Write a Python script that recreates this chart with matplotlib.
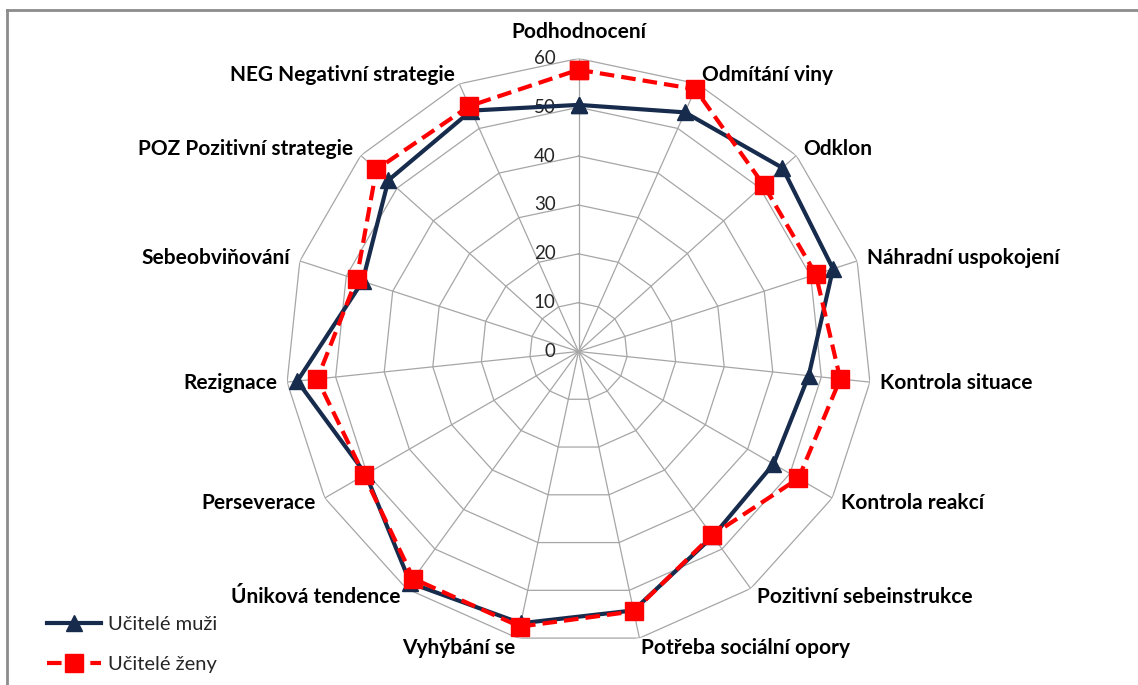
import numpy as np
import matplotlib
matplotlib.use("Agg")
import matplotlib.pyplot as plt
from matplotlib.lines import Line2D

plt.rcParams['font.family'] = ['Lato', 'DejaVu Sans']

categories = ["Podhodnocení", "Odmítání viny", "Odklon", "Náhradní uspokojení",
              "Kontrola situace", "Kontrola reakcí", "Pozitivní sebeinstrukce",
              "Potřeba sociální opory", "Vyhýbání se", "Úniková tendence",
              "Perseverace", "Rezignace", "Sebeobviňování",
              "POZ Pozitivní strategie", "NEG Negativní strategie"]
muzi = [50.5, 53.6, 56.2, 54.8, 47.4, 46.1, 46.8, 54.2, 56.9, 58.6,
        50.3, 57.9, 46.5, 52.4, 54.0]
zeny = [57.7, 58.8, 51.0, 51.1, 53.9, 52.0, 46.5, 54.4, 57.6, 57.5,
        50.7, 53.8, 47.8, 55.7, 55.0]
r_ticks = [0, 10, 20, 30, 40, 50, 60]
series_names = ["Učitelé muži", "Učitelé ženy"]

W, H = 1138, 685
fig = plt.figure(figsize=(W / 100, H / 100), dpi=100)
fig.patch.set_facecolor('white')

cx, cy, R = 578.5, 351.5, 293.0
ax = fig.add_axes([(cx - R) / W, (H - cy - R) / H, 2 * R / W, 2 * R / H],
                  projection='polar')
ax.set_theta_offset(np.pi / 2)
ax.set_theta_direction(-1)
ax.set_ylim(0, 60)
ax.grid(False)
ax.spines['polar'].set_visible(False)
ax.set_xticks([])
ax.set_yticks([])
ax.patch.set_alpha(0)

n = len(categories)
theta = np.linspace(0, 2 * np.pi, n, endpoint=False)
closed = np.append(theta, theta[0])

# polygonal web: rings and spokes
grid_col = '#a6a6a6'
for r in r_ticks[1:]:
    ax.plot(closed, [r] * (n + 1), color=grid_col, lw=0.9, zorder=1)
for t in theta:
    ax.plot([t, t], [0, 60], color=grid_col, lw=0.9, zorder=1)

for v in r_ticks:
    ax.annotate(str(v), xy=(0, v), xytext=(-23, 0), textcoords='offset pixels',
                ha='right', va='center', fontsize=13.5, color='#262626',
                annotation_clip=False, zorder=2)

navy = '#172B4D'
red = '#FF0000'
ax.plot(closed, muzi + muzi[:1], color=navy, lw=3, marker='^', ms=12,
        clip_on=False, zorder=3, label=series_names[0])
ax.plot(closed, zeny + zeny[:1], color=red, lw=3, ls=(0, (3.5, 1.7)),
        marker='s', ms=13, clip_on=False, zorder=4, label=series_names[1])

# category labels just outside the outer ring
for t, name in zip(theta, categories):
    ang = np.pi / 2 - t
    c, s = np.cos(ang), np.sin(ang)
    if abs(c) < 0.15:
        gap = 17
        ha = 'center'
        va = 'bottom' if s > 0 else 'top'
    else:
        gap = 10
        ha = 'left' if c > 0 else 'right'
        va = 'center'
    ax.annotate(name, xy=(t, 60), xytext=(gap * c, gap * s),
                textcoords='offset pixels', ha=ha, va=va, fontsize=15,
                fontweight='bold', color='black', annotation_clip=False)

handles, labels = ax.get_legend_handles_labels()
fig.legend(handles, labels, loc='upper left',
           bbox_to_anchor=(37 / W, 1 - 606 / H), frameon=False,
           fontsize=14.5, handlelength=2.7, handletextpad=0.35,
           labelspacing=1.15, borderpad=0, labelcolor='#262626')

border = '#8c8c8c'
fig.add_artist(Line2D([7 / W, 1], [1 - 10 / H, 1 - 10 / H], color=border,
                      lw=2, transform=fig.transFigure))
fig.add_artist(Line2D([7 / W, 7 / W], [0, 1 - 10 / H], color=border,
                      lw=2, transform=fig.transFigure))

fig.savefig('out.png', dpi=100)
